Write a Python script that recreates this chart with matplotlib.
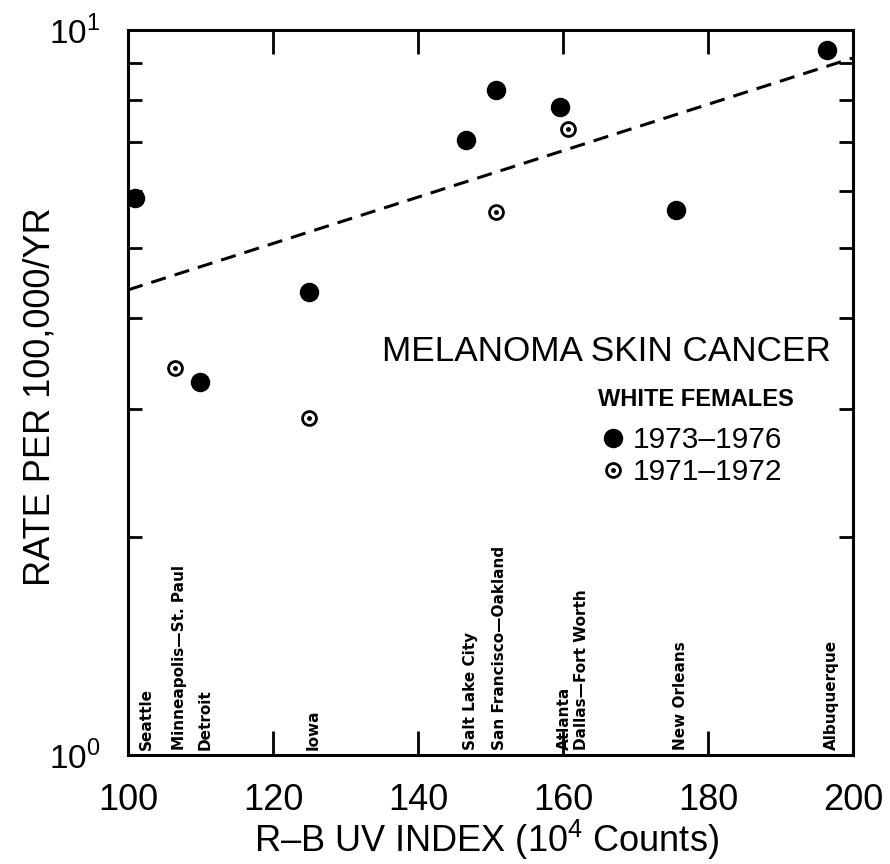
import numpy as np
import matplotlib.pyplot as plt
from matplotlib.lines import Line2D
from matplotlib.legend_handler import HandlerTuple

plt.rcParams['font.family'] = ['Liberation Sans', 'DejaVu Sans']
plt.rcParams['mathtext.fontset'] = 'custom'
plt.rcParams['mathtext.rm'] = 'Liberation Sans'

# cities along the bottom, with R-B UV index (10^4 counts)
cities = ['Seattle', 'Minneapolis\u2014St. Paul', 'Detroit', 'Iowa', 'Salt Lake City',
          'San Francisco\u2014Oakland', 'Atlanta', 'Dallas\u2014Fort Worth', 'New Orleans',
          'Albuquerque']
uv_index = [101.0, 106.5, 110.0, 125.0, 146.6, 150.7, 159.6, 160.7, 175.6, 196.4]

# rate per 100,000/yr (nan = not plotted)
rate_7376 = [5.87, np.nan, 3.27, 4.35, 7.05, 8.27, 7.83, np.nan, 5.65, 9.38]
rate_7172 = [np.nan, 3.42, np.nan, 2.92, np.nan, 5.61, np.nan, 7.30, np.nan, np.nan]

# fitted line end points
fit_x = [100, 200]
fit_y = [4.38, 9.15]

fig = plt.figure(figsize=(8.9, 8.64), dpi=100)
ax = fig.add_axes([0.1438, 0.1262, 0.8146, 0.8391])

ax.plot(fit_x, fit_y, color='black', lw=2.2, ls=(0, (5, 3)), zorder=2)

ax.plot(uv_index, rate_7376, 'o', color='black', ms=13, zorder=3)
ax.plot(uv_index, rate_7172, 'o', mfc='white', mec='black', mew=2, ms=10, zorder=3)
ax.plot(uv_index, rate_7172, 'o', color='black', ms=2.5, zorder=4)

# city names above the x axis, nudged apart where they would collide
prev = -1e9
for name, x in zip(cities, uv_index):
    lx = max(x + 0.6, 102.6, prev + 2.4)
    prev = lx
    ax.text(lx, 1.015, name, rotation=90, ha='center', va='bottom',
            fontsize=11, fontweight='bold', family='DejaVu Sans')

ax.set_yscale('log')
ax.set_xlim(100, 200)
ax.set_ylim(1, 10)
ax.set_xticks([100, 120, 140, 160, 180, 200])
ax.set_yticks([1, 10])
ax.set_yticklabels(['10$^0$', '10$^1$'])

ax.tick_params(which='both', direction='in', top=True, right=True, width=2)
ax.tick_params(axis='x', which='major', length=17, labelsize=26, pad=20)
ax.tick_params(axis='y', which='major', length=0, labelsize=24, pad=20)
ax.tick_params(axis='y', which='minor', length=10)
ax.yaxis.set_minor_formatter(plt.NullFormatter())
for s in ax.spines.values():
    s.set_linewidth(2.2)

ax.set_xlabel('R\u2013B UV INDEX (10$^4$ Counts)', fontsize=26)
ax.set_ylabel('RATE PER 100,000/YR', fontsize=26)
ax.xaxis.set_label_coords(0.495, -0.134)
ax.yaxis.set_label_coords(-0.121, 0.494)
ax.xaxis.label.set_va('baseline')
ax.yaxis.label.set_va('center')

ax.text(0.66, 0.556, 'MELANOMA SKIN CANCER', transform=ax.transAxes,
        ha='center', va='center', fontsize=25.3)

h1 = Line2D([], [], ls='none', marker='o', color='black', ms=13)
h2a = Line2D([], [], ls='none', marker='o', mfc='white', mec='black', mew=2, ms=10)
h2b = Line2D([], [], ls='none', marker='o', color='black', ms=2.5)
leg = ax.legend([h1, (h2a, h2b)], ['1973\u20131976', '1971\u20131972'],
                handler_map={tuple: HandlerTuple(ndivide=1, pad=0)},
                title='WHITE FEMALES', title_fontproperties={'size': 17, 'weight': 'bold'},
                fontsize=21.5, frameon=False, handlelength=1.0, handletextpad=0.17,
                labelspacing=0.12, loc='upper left', bbox_to_anchor=(0.648, 0.506),
                borderaxespad=0, borderpad=0, alignment='left')
leg._legend_box.sep = 11

fig.savefig('out.png', dpi=100)
